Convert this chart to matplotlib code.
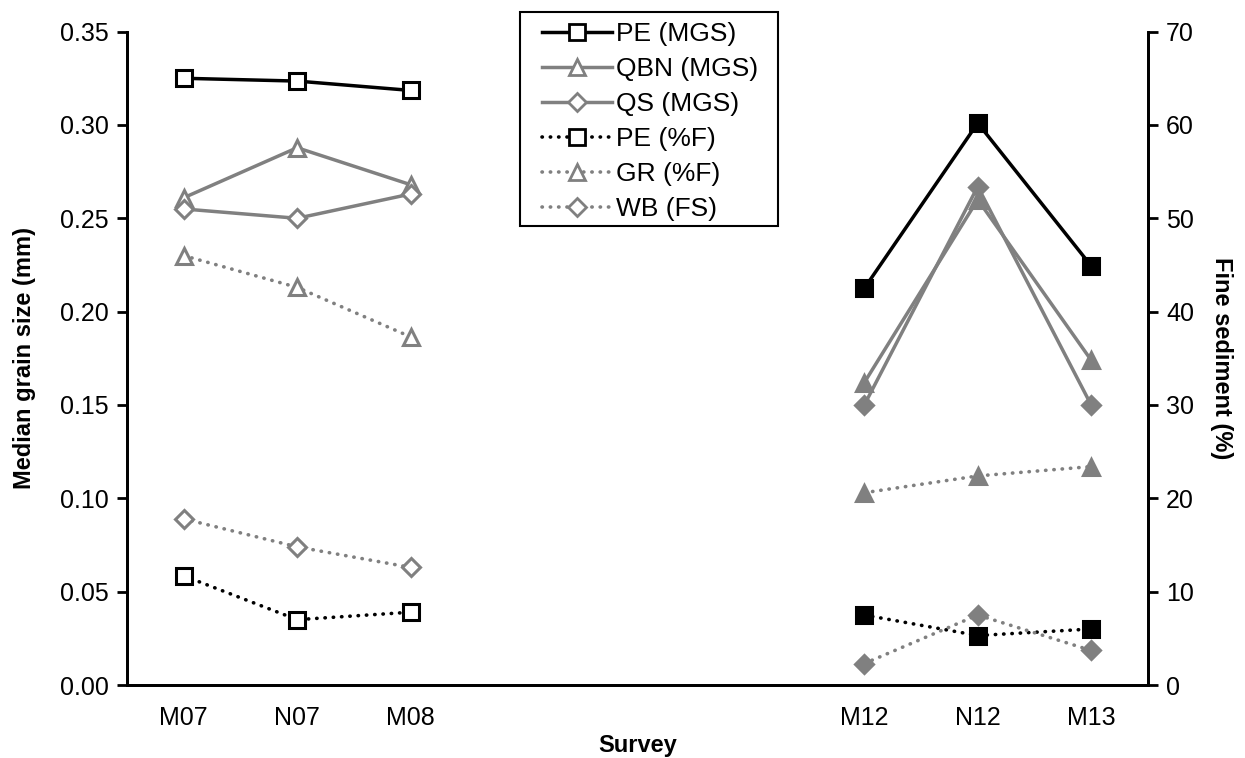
import numpy as np
import matplotlib
matplotlib.use("Agg")
import matplotlib.pyplot as plt
from matplotlib.lines import Line2D
from matplotlib.patches import Rectangle

plt.rcParams['font.family'] = ['Liberation Sans', 'DejaVu Sans']

# ---- data ----
tick_labels = ["M07", "N07", "M08", "", "", "", "M12", "N12", "M13"]
pos_early = [0, 1, 2]
pos_late = [6, 7, 8]

# Median grain size (mm) - left axis
pe_mgs_early = [0.325, 0.3235, 0.3185]
pe_mgs_late = [0.2125, 0.301, 0.2245]
qbn_mgs_early = [0.261, 0.2878, 0.268]
qbn_mgs_late = [0.162, 0.260, 0.174]
qs_mgs_early = [0.255, 0.250, 0.263]
qs_mgs_late = [0.150, 0.267, 0.150]

# Fine sediment (%) - right axis
pe_f_early = [11.7, 7.0, 7.8]
pe_f_late = [7.5, 5.3, 6.0]
gr_f_early = [46.0, 42.6, 37.3]
gr_f_late = [20.6, 22.4, 23.4]
wb_fs_early = [17.8, 14.8, 12.6]
wb_fs_late = [2.3, 7.5, 3.7]

BLACK = "#000000"
GRAY = "#808080"

W, H = 1245, 758
fig = plt.figure(figsize=(W / 100, H / 100), dpi=100)
ax = fig.add_axes([0.102, 0.0963, 0.820, 0.862])
ax2 = ax.twinx()

solid = dict(linestyle='-', linewidth=2.5)
dotted = dict(linestyle=(0, (0.1, 2.2)), linewidth=2.6, dash_capstyle='round')

def series(a, xe, ye, xl, yl, color, marker, ms, style, label):
    a.plot(xe, ye, color=color, marker=marker, markersize=ms, markerfacecolor='white',
           markeredgecolor=color, markeredgewidth=2.2, **style, zorder=3)
    a.plot(xl, yl, color=color, marker=marker, markersize=ms, markerfacecolor=color,
           markeredgecolor=color, markeredgewidth=2.2, **style, zorder=3)
    return Line2D([], [], color=color, marker=marker, markersize=ms, markerfacecolor='white',
                  markeredgecolor=color, markeredgewidth=2.0, label=label, **style)

handles = []
handles.append(series(ax, pos_early, pe_mgs_early, pos_late, pe_mgs_late, BLACK, 's', 12, solid, "PE (MGS)"))
handles.append(series(ax, pos_early, qbn_mgs_early, pos_late, qbn_mgs_late, GRAY, '^', 12, solid, "QBN (MGS)"))
handles.append(series(ax, pos_early, qs_mgs_early, pos_late, qs_mgs_late, GRAY, 'D', 9, solid, "QS (MGS)"))
handles.append(series(ax2, pos_early, pe_f_early, pos_late, pe_f_late, BLACK, 's', 12, dotted, "PE (%F)"))
handles.append(series(ax2, pos_early, gr_f_early, pos_late, gr_f_late, GRAY, '^', 12, dotted, "GR (%F)"))
handles.append(series(ax2, pos_early, wb_fs_early, pos_late, wb_fs_late, GRAY, 'D', 9, dotted, "WB (FS)"))

ax.set_xlim(-0.5, 8.5)
ax.set_ylim(0, 0.35)
ax2.set_ylim(0, 70)
ax.set_xticks(range(len(tick_labels)))
ax.set_xticklabels(tick_labels)
yt = np.arange(0, 0.351, 0.05)
ax.set_yticks(yt)
ax.set_yticklabels([f"{v:.2f}" for v in yt])
ax2.set_yticks(np.arange(0, 71, 10))

for a in (ax, ax2):
    a.spines['top'].set_visible(False)
    for s in a.spines.values():
        s.set_linewidth(2.0)
ax.tick_params(axis='x', length=0, labelsize=18, pad=15)
ax.tick_params(axis='y', length=7, width=2, labelsize=18, pad=6)
ax2.tick_params(axis='y', length=7, width=2, labelsize=18, pad=6)

ax.set_xlabel("Survey", fontsize=17, fontweight='bold', labelpad=3)
ax.set_ylabel("Median grain size (mm)", fontsize=17, fontweight='bold', labelpad=17)
ax2.set_ylabel("Fine sediment (%)", fontsize=17, fontweight='bold', rotation=270, labelpad=28)

# legend box drawn separately so padding can match the reference
box = Rectangle((520 / W, 1 - 226 / H), 258 / W, 214 / H, transform=fig.transFigure,
                facecolor='white', edgecolor='black', linewidth=1.5, zorder=5)
fig.add_artist(box)
leg = fig.legend(handles=handles, loc='upper left', bbox_to_anchor=(542 / W, 1 - 22 / H),
                 bbox_transform=fig.transFigure, borderaxespad=0, borderpad=0,
                 fontsize=19, frameon=False, handlelength=2.65, handletextpad=0.15,
                 labelspacing=0.42)
leg.set_zorder(6)

fig.savefig("out.png", dpi=100)
